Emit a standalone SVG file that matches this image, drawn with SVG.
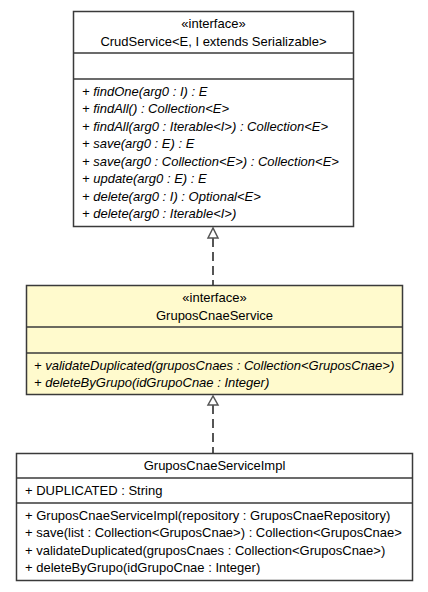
<svg xmlns="http://www.w3.org/2000/svg" width="428" height="592" viewBox="0 0 428 592">
<style>
.box{stroke:#3a3a3a;stroke-width:1.5}
.plain{fill:#ffffff}
.yellow{fill:#fffacd}
.div{stroke:#3a3a3a;stroke-width:1.5}
text{font-family:"Liberation Sans",Arial,sans-serif;font-size:13px;fill:#000}
.c{text-anchor:middle}
.i{font-style:italic}
.dep{stroke:#555;stroke-width:2;stroke-dasharray:9,5;fill:none}
.head{fill:#fff;stroke:#555;stroke-width:1.5}
</style>
<rect width="428" height="592" fill="#fff"/>
<g id="connectors">
<line class="dep" x1="213" y1="238" x2="213" y2="285"/>
<polygon class="head" points="213,228 208,238 218,238"/>
<line class="dep" x1="213" y1="405" x2="213" y2="453"/>
<polygon class="head" points="213,396 208,405 218,405"/>
</g>
<g id="CrudService">
<rect class="box plain" x="73.5" y="11.5" width="280" height="215"/>
<line class="div" x1="73.5" y1="53" x2="353.5" y2="53"/>
<line class="div" x1="73.5" y1="79" x2="353.5" y2="79"/>
<text class="c" x="213.5" y="28">«interface»</text>
<text class="c" x="213.5" y="45.5">CrudService&lt;E, I extends Serializable&gt;</text>
<text class="i" x="82" y="95.5">+ findOne(arg0 : I) : E</text>
<text class="i" x="82" y="113">+ findAll() : Collection&lt;E&gt;</text>
<text class="i" x="82" y="130.5">+ findAll(arg0 : Iterable&lt;I&gt;) : Collection&lt;E&gt;</text>
<text class="i" x="82" y="148">+ save(arg0 : E) : E</text>
<text class="i" x="82" y="165.5">+ save(arg0 : Collection&lt;E&gt;) : Collection&lt;E&gt;</text>
<text class="i" x="82" y="183">+ update(arg0 : E) : E</text>
<text class="i" x="82" y="200.5">+ delete(arg0 : I) : Optional&lt;E&gt;</text>
<text class="i" x="82" y="218">+ delete(arg0 : Iterable&lt;I&gt;)</text>
</g>
<g id="GruposCnaeService">
<rect class="box yellow" x="26.5" y="285.5" width="376" height="109"/>
<line class="div" x1="26.5" y1="327" x2="402.5" y2="327"/>
<line class="div" x1="26.5" y1="353" x2="402.5" y2="353"/>
<text class="c" x="214.5" y="302">«interface»</text>
<text class="c" x="214.5" y="319.5">GruposCnaeService</text>
<text class="i" x="34" y="369.5">+ validateDuplicated(gruposCnaes : Collection&lt;GruposCnae&gt;)</text>
<text class="i" x="34" y="387">+ deleteByGrupo(idGrupoCnae : Integer)</text>
</g>
<g id="GruposCnaeServiceImpl">
<rect class="box plain" x="16.5" y="453.5" width="396" height="127"/>
<line class="div" x1="16.5" y1="478" x2="412.5" y2="478"/>
<line class="div" x1="16.5" y1="503" x2="412.5" y2="503"/>
<text class="c" x="214.5" y="470">GruposCnaeServiceImpl</text>
<text x="25" y="494.5">+ DUPLICATED : String</text>
<text x="25" y="519.5">+ GruposCnaeServiceImpl(repository : GruposCnaeRepository)</text>
<text x="25" y="537">+ save(list : Collection&lt;GruposCnae&gt;) : Collection&lt;GruposCnae&gt;</text>
<text x="25" y="554.5">+ validateDuplicated(gruposCnaes : Collection&lt;GruposCnae&gt;)</text>
<text x="25" y="572">+ deleteByGrupo(idGrupoCnae : Integer)</text>
</g>
</svg>
